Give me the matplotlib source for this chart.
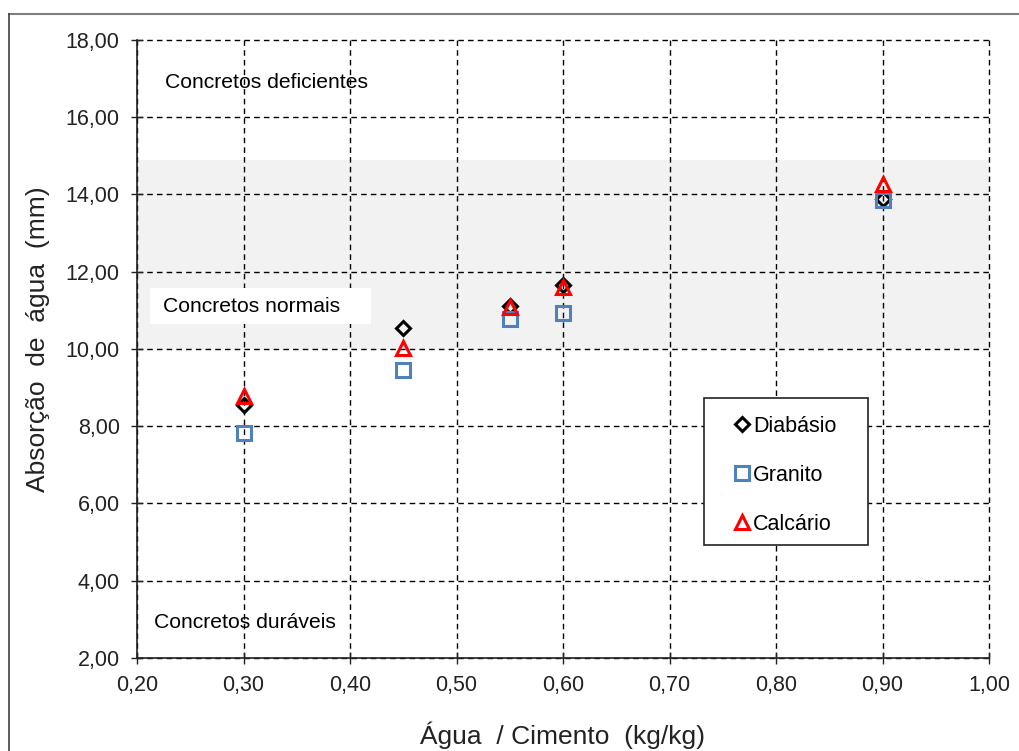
import matplotlib
matplotlib.use("Agg")
import matplotlib.pyplot as plt
from matplotlib.lines import Line2D
from matplotlib.patches import Rectangle

plt.rcParams['font.family'] = ['Liberation Sans', 'DejaVu Sans']

ac_ratio = [0.30, 0.45, 0.55, 0.60, 0.90]
diabasio = [8.55, 10.55, 11.12, 11.65, 13.88]
granito = [7.83, 9.46, 10.78, 10.93, 13.86]
calcario = [8.78, 10.02, 11.10, 11.60, 14.27]

x_ticks = [0.20, 0.30, 0.40, 0.50, 0.60, 0.70, 0.80, 0.90, 1.00]
y_ticks = [2, 4, 6, 8, 10, 12, 14, 16, 18]
band_low, band_high = 10.0, 14.9

W, H = 1019, 751
L, R, T, B = 137, 989, 40, 658

fig = plt.figure(figsize=(W/100, H/100), dpi=100)
ax = fig.add_axes([L/W, 1-B/H, (R-L)/W, (B-T)/H])

def ax_frac(px, py):
    return (px-L)/(R-L), (B-py)/(B-T)

# outer frame
fig.add_artist(Line2D([9/W, 1.0], [1-14/H, 1-14/H], color='#7f7f7f', lw=1.5, transform=fig.transFigure))
fig.add_artist(Line2D([9/W, 9/W], [0, 1-14/H], color='#404040', lw=1.2, transform=fig.transFigure))

ax.set_xlim(0.20, 1.00)
ax.set_ylim(2, 18)
ax.axhspan(band_low, band_high, color='#f2f2f2', zorder=0, lw=0)

ax.set_xticks(x_ticks)
ax.set_yticks(y_ticks)
ax.set_xticklabels([f"{v:.2f}".replace('.', ',') for v in x_ticks])
ax.set_yticklabels([f"{v:.2f}".replace('.', ',') for v in y_ticks])
ax.grid(True, color='black', linestyle=(0, (4, 3)), lw=1.0, zorder=1)
ax.set_axisbelow(True)
for gl in ax.get_xgridlines() + ax.get_ygridlines():
    gl.set_clip_on(False)
for s in ['top', 'right']:
    ax.spines[s].set_visible(False)
for s in ['left', 'bottom']:
    ax.spines[s].set_linewidth(1.2)
    ax.spines[s].set_color('#222222')
ax.tick_params(direction='inout', length=9, width=1.0, labelsize=15.5, colors='#222222')
ax.tick_params(axis='y', pad=8)
ax.tick_params(axis='x', pad=8)

ax.plot(ac_ratio, diabasio, linestyle='none', marker='D', markersize=7, mfc='none', mec='black', mew=2.2, label='Diabásio', zorder=3)
ax.plot(ac_ratio, granito, linestyle='none', marker='s', markersize=10, mfc='none', mec='#4f81bd', mew=2.2, label='Granito', zorder=3)
ax.plot(ac_ratio, calcario, linestyle='none', marker='^', markersize=10, mfc='none', mec='#ff0000', mew=2.2, label='Calcário', zorder=4)

ax.text(0.2265, 16.9, 'Concretos deficientes', fontsize=15.2, va='center', ha='left')
ax.add_patch(Rectangle((0.2124, 10.65), 0.207, 0.92, facecolor='white', edgecolor='none', zorder=2))
ax.text(0.2245, 11.1, 'Concretos normais', fontsize=15.2, va='center', ha='left', zorder=3)
ax.text(0.216, 2.93, 'Concretos duráveis', fontsize=15.2, va='center', ha='left')

# legend frame
x0, y0 = ax_frac(704, 545)
x1, y1 = ax_frac(868, 398)
ax.add_patch(Rectangle((x0, y0), x1-x0, y1-y0, transform=ax.transAxes, facecolor='white',
                       edgecolor='#222222', lw=1.2, zorder=5))
lx, ly = ax_frac(727, 407)
leg = ax.legend(loc='upper left', bbox_to_anchor=(lx, ly), frameon=False,
                fontsize=15.5, handlelength=0.6, handletextpad=0.2, borderpad=0.4, labelspacing=1.3,
                borderaxespad=0)
leg.set_zorder(6)

ax.set_ylabel('Absorção  de  água  (mm)', fontsize=19, color='#222222')
ax.yaxis.label.set_va('center')
ax.yaxis.set_label_coords((38-L)/(R-L), (B-339)/(B-T))
ax.set_xlabel('Água  / Cimento  (kg/kg)', fontsize=19, labelpad=18, color='#222222')

fig.savefig('out.png', dpi=100)
